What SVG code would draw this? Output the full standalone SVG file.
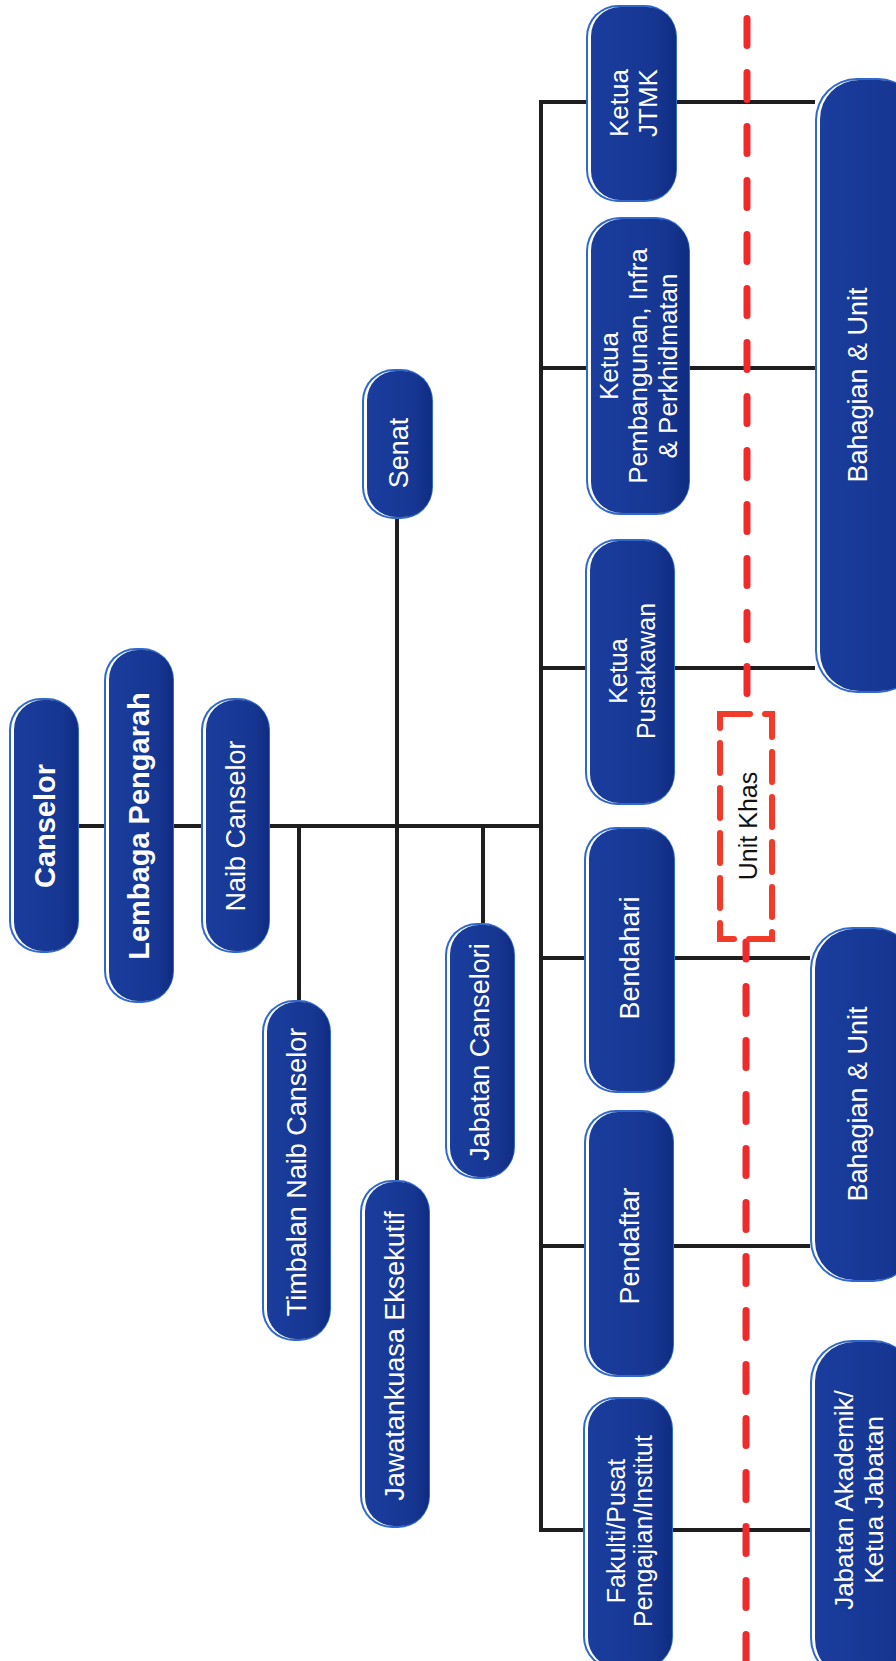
<svg xmlns="http://www.w3.org/2000/svg" width="896" height="1661" viewBox="0 0 896 1661">
<defs>
<linearGradient id="bodyGrad" x1="0" y1="0" x2="1" y2="0">
<stop offset="0" stop-color="#1a3d9e"/>
<stop offset="0.75" stop-color="#163691"/>
<stop offset="1" stop-color="#0f2c82"/>
</linearGradient>
</defs>
<style>
.rim{fill:#3068cc}
.hl{fill:#ffffff}
.body{fill:url(#bodyGrad)}
.lbl{fill:#ffffff;font-family:"Liberation Sans",Arial,sans-serif;font-size:27px;text-anchor:middle}
.sm{font-size:26px}
.xs{font-size:25px}
.bold{font-weight:bold;font-size:29px}
.conn{stroke:#1e1e1e;stroke-width:4;fill:none;stroke-linejoin:miter}
.red{stroke:#f02a2a;stroke-width:7;fill:none;stroke-linecap:round;stroke-dasharray:27 27}
.redsolid{stroke:#f02a2a;stroke-width:7;fill:none;stroke-linecap:round}
.redbox{stroke:#f03a2a;stroke-width:6;fill:none;stroke-linecap:round;stroke-dasharray:30 15}
.blk{fill:#111111;font-family:"Liberation Sans",Arial,sans-serif;font-size:25px;text-anchor:middle}
</style>
<rect width="896" height="1661" fill="#ffffff"/>
<g id="connectors">
<path class="conn" d="M79 826 H541"/>
<path class="conn" d="M815 102 H541 V1530 H810"/>
<path class="conn" d="M541 368 H815"/>
<path class="conn" d="M541 668 H815"/>
<path class="conn" d="M541 958 H810"/>
<path class="conn" d="M541 1246 H810"/>
<path class="conn" d="M299 826 V1000"/>
<path class="conn" d="M397 519 V1180"/>
<path class="conn" d="M483 826 V923"/>
</g>
<g id="divider">
<path class="red" d="M747 18.5 V694"/>
<path class="redsolid" d="M746 942 V959"/>
<path class="red" d="M746 986.5 V1670"/>
</g>
<g id="unit-khas">
<rect class="redbox" x="720" y="714" width="52" height="225"/>
<text class="blk" transform="rotate(-90)" x="-826" y="757">Unit Khas</text>
</g>
<g id="canselor">
<rect class="rim" x="9" y="698" width="70" height="255" rx="32"/>
<rect class="hl" x="11" y="700" width="66" height="251" rx="30"/>
<rect class="body" x="14" y="700" width="64" height="251" rx="29"/>
<text class="lbl bold" transform="rotate(-90)" x="-826" y="55">Canselor</text>
</g>
<g id="lembaga-pengarah">
<rect class="rim" x="104" y="648" width="70" height="355" rx="32"/>
<rect class="hl" x="106" y="650" width="66" height="351" rx="30"/>
<rect class="body" x="109" y="650" width="64" height="351" rx="29"/>
<text class="lbl bold" transform="rotate(-90)" x="-826" y="149">Lembaga Pengarah</text>
</g>
<g id="naib-canselor">
<rect class="rim" x="201" y="698" width="69" height="255" rx="32"/>
<rect class="hl" x="203" y="700" width="65" height="251" rx="30"/>
<rect class="body" x="206" y="700" width="63" height="251" rx="29"/>
<text class="lbl" transform="rotate(-90)" x="-826" y="245">Naib Canselor</text>
</g>
<g id="senat">
<rect class="rim" x="362" y="369" width="71" height="150" rx="32"/>
<rect class="hl" x="364" y="371" width="67" height="146" rx="30"/>
<rect class="body" x="367" y="371" width="65" height="146" rx="29"/>
<text class="lbl" transform="rotate(-90)" x="-453" y="408">Senat</text>
</g>
<g id="timbalan-naib-canselor">
<rect class="rim" x="262" y="1000" width="69" height="341" rx="32"/>
<rect class="hl" x="264" y="1002" width="65" height="337" rx="30"/>
<rect class="body" x="267" y="1002" width="63" height="337" rx="29"/>
<text class="lbl" transform="rotate(-90)" x="-1172" y="306">Timbalan Naib Canselor</text>
</g>
<g id="jawatankuasa-eksekutif">
<rect class="rim" x="360" y="1180" width="70" height="348" rx="32"/>
<rect class="hl" x="362" y="1182" width="66" height="344" rx="30"/>
<rect class="body" x="365" y="1182" width="64" height="344" rx="29"/>
<text class="lbl" transform="rotate(-90)" x="-1356" y="404">Jawatankuasa Eksekutif</text>
</g>
<g id="jabatan-canselori">
<rect class="rim" x="445" y="923" width="70" height="256" rx="32"/>
<rect class="hl" x="447" y="925" width="66" height="252" rx="30"/>
<rect class="body" x="450" y="925" width="64" height="252" rx="29"/>
<text class="lbl" transform="rotate(-90)" x="-1052" y="489">Jabatan Canselori</text>
</g>
<g id="ketua-jtmk">
<rect class="rim" x="586" y="5" width="91" height="197" rx="32"/>
<rect class="hl" x="588" y="7" width="87" height="193" rx="30"/>
<rect class="body" x="591" y="7" width="85" height="193" rx="29"/>
<text class="lbl sm" transform="rotate(-90)" x="-103" y="628">Ketua</text>
<text class="lbl sm" transform="rotate(-90)" x="-103" y="657">JTMK</text>
</g>
<g id="ketua-pembangunan">
<rect class="rim" x="586" y="217" width="104" height="298" rx="34"/>
<rect class="hl" x="588" y="219" width="100" height="294" rx="32"/>
<rect class="body" x="591" y="219" width="98" height="294" rx="31"/>
<text class="lbl sm" transform="rotate(-90)" x="-366" y="618">Ketua</text>
<text class="lbl sm" transform="rotate(-90)" x="-366" y="647">Pembangunan, Infra</text>
<text class="lbl sm" transform="rotate(-90)" x="-366" y="677">&amp; Perkhidmatan</text>
</g>
<g id="ketua-pustakawan">
<rect class="rim" x="585" y="539" width="90" height="266" rx="32"/>
<rect class="hl" x="587" y="541" width="86" height="262" rx="30"/>
<rect class="body" x="590" y="541" width="84" height="262" rx="29"/>
<text class="lbl xs" transform="rotate(-90)" x="-671" y="627">Ketua</text>
<text class="lbl xs" transform="rotate(-90)" x="-671" y="655">Pustakawan</text>
</g>
<g id="bendahari">
<rect class="rim" x="584" y="827" width="91" height="266" rx="32"/>
<rect class="hl" x="586" y="829" width="87" height="262" rx="30"/>
<rect class="body" x="589" y="829" width="85" height="262" rx="29"/>
<text class="lbl" transform="rotate(-90)" x="-958" y="639">Bendahari</text>
</g>
<g id="pendaftar">
<rect class="rim" x="584" y="1110" width="90" height="267" rx="32"/>
<rect class="hl" x="586" y="1112" width="86" height="263" rx="30"/>
<rect class="body" x="589" y="1112" width="84" height="263" rx="29"/>
<text class="lbl" transform="rotate(-90)" x="-1246" y="639">Pendaftar</text>
</g>
<g id="fakulti">
<rect class="rim" x="583" y="1397" width="90" height="272" rx="32"/>
<rect class="hl" x="585" y="1399" width="86" height="268" rx="30"/>
<rect class="body" x="588" y="1399" width="84" height="268" rx="29"/>
<text class="lbl xs" transform="rotate(-90)" x="-1531" y="625">Fakulti/Pusat</text>
<text class="lbl xs" transform="rotate(-90)" x="-1531" y="652">Pengajian/Institut</text>
</g>
<g id="bahagian-unit-1">
<rect class="rim" x="815" y="78" width="105" height="615" rx="42"/>
<rect class="hl" x="817" y="80" width="101" height="611" rx="40"/>
<rect class="body" x="820" y="80" width="99" height="611" rx="39"/>
<text class="lbl" transform="rotate(-90)" x="-385" y="867">Bahagian &amp; Unit</text>
</g>
<g id="bahagian-unit-2">
<rect class="rim" x="810" y="927" width="105" height="355" rx="42"/>
<rect class="hl" x="812" y="929" width="101" height="351" rx="40"/>
<rect class="body" x="815" y="929" width="99" height="351" rx="39"/>
<text class="lbl" transform="rotate(-90)" x="-1104" y="867">Bahagian &amp; Unit</text>
</g>
<g id="jabatan-akademik">
<rect class="rim" x="810" y="1340" width="105" height="340" rx="42"/>
<rect class="hl" x="812" y="1342" width="101" height="336" rx="40"/>
<rect class="body" x="815" y="1342" width="99" height="336" rx="39"/>
<text class="lbl sm" transform="rotate(-90)" x="-1500" y="853">Jabatan Akademik/</text>
<text class="lbl sm" transform="rotate(-90)" x="-1500" y="883">Ketua Jabatan</text>
</g>
</svg>
